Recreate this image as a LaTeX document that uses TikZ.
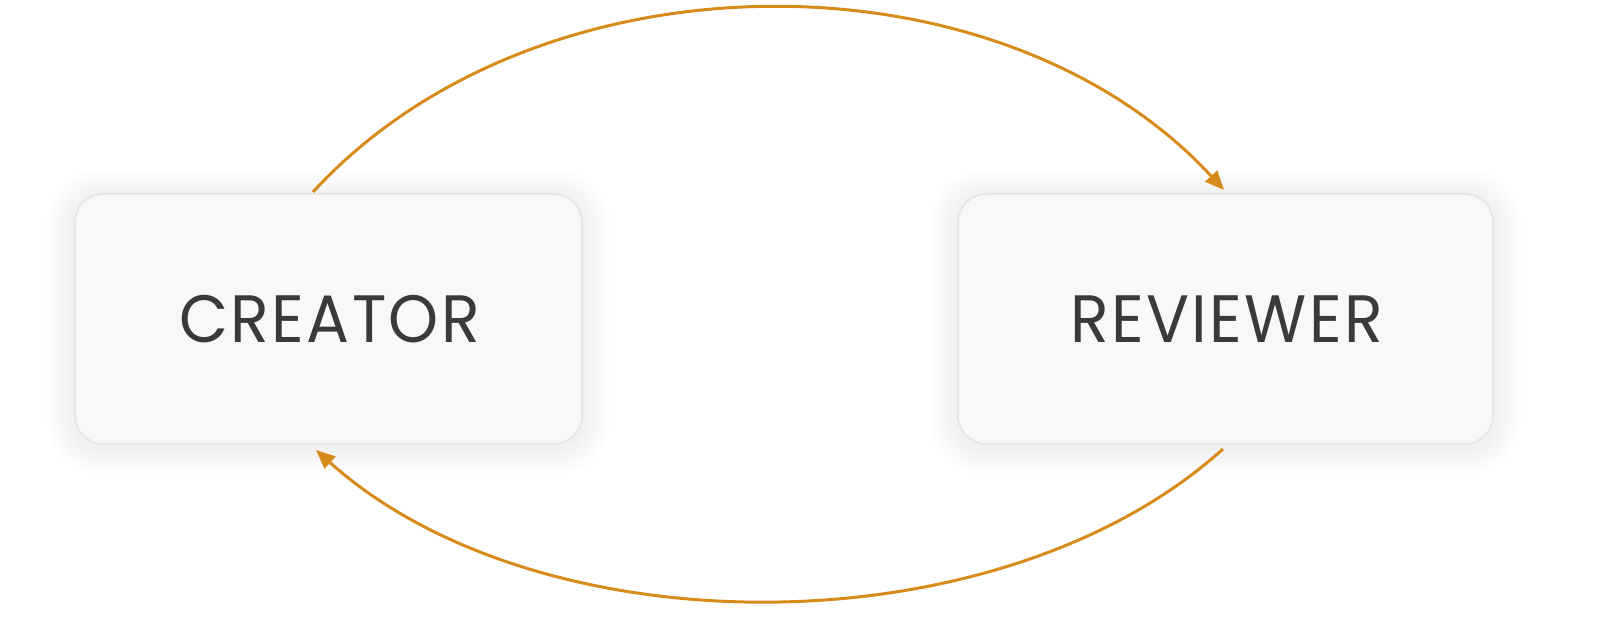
\documentclass[tikz,border=0pt]{standalone}
\usepackage{fontspec}
\setmainfont{Poppins}
\usetikzlibrary{arrows.meta,backgrounds}
\definecolor{boxfill}{HTML}{F9F8F6}
\definecolor{boxline}{HTML}{E8E6E3}
\definecolor{txt}{HTML}{3A3A38}
\definecolor{arr}{HTML}{D68B1A}
\tikzset{
  stagebox/.style={draw=boxline, line width=2pt, fill=boxfill, rounded corners=28pt,
    minimum height=250pt, inner sep=0pt,
    font=\fontsize{67}{72}\selectfont, text=txt},
  flow/.style={draw=arr, line width=3pt, -{Triangle[length=19pt,width=16pt]}}
}
\newcommand{\softshadow}[1]{%
  \foreach \k in {1,...,14}{%
    \fill[black, opacity=0.0028, rounded corners=28pt+\k*2pt]
      ([shift={(-\k*2pt,-\k*2pt-3pt)}]#1.south west) rectangle
      ([shift={(\k*2pt,\k*2pt-3pt)}]#1.north east);
  }%
}
\begin{document}
\begin{tikzpicture}[x=1pt,y=1pt]
\useasboundingbox (0,0) rectangle (1619,617);
\node[stagebox, minimum width=507pt] (creator) at (328.5,298)
  {\addfontfeature{FakeStretch=0.95,LetterSpace=3.5}CREATOR\kern-2.3pt};
\node[stagebox, minimum width=535pt] (reviewer) at (1225.5,298)
  {\addfontfeature{FakeStretch=0.95,LetterSpace=3.5}REVIEWER\kern-2.3pt};
\begin{scope}[on background layer]
  \softshadow{creator}
  \softshadow{reviewer}
\end{scope}
\coordinate (s1) at ([xshift=-15.5pt,yshift=1pt]creator.north);
\coordinate (e1) at ([xshift=-1.5pt,yshift=3pt]reviewer.north);
\coordinate (s2) at ([xshift=-2.5pt,yshift=-4pt]reviewer.south);
\coordinate (e2) at ([xshift=-12.5pt,yshift=-5pt]creator.south);
\draw[flow] (s1) .. controls (538,670) and (1000,670) .. (e1);
\draw[flow] (s2) .. controls (999,-34) and (540,-34) .. (e2);
\end{tikzpicture}
\end{document}
